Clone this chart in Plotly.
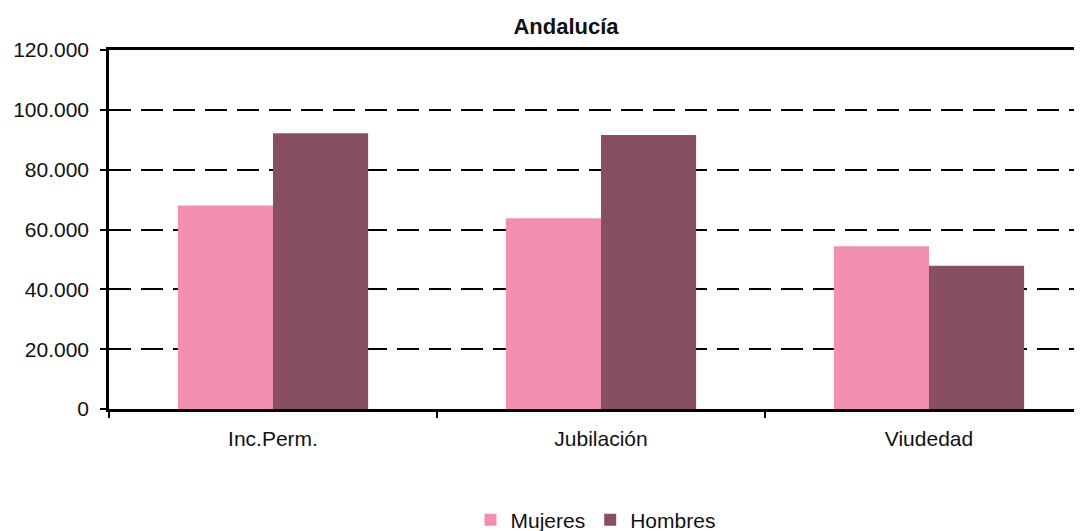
import plotly.graph_objects as go

categories = ["Inc.Perm.", "Jubilación", "Viudedad"]
mujeres = [68000, 63800, 54400]
hombres = [92200, 91600, 47900]
y_ticks = [0, 20000, 40000, 60000, 80000, 100000, 120000]
y_tick_labels = ["0", "20.000", "40.000", "60.000", "80.000", "100.000", "120.000"]

FONT = "Liberation Sans, Arial, sans-serif"
W, H = 1074, 523  # page has an 8px body offset

fig = go.Figure()
fig.add_trace(go.Bar(name="Mujeres", x=categories, y=mujeres,
                     marker=dict(color="#F28FB1", line=dict(width=0))))
fig.add_trace(go.Bar(name="Hombres", x=categories, y=hombres,
                     marker=dict(color="#884F61", line=dict(width=0))))

fig.update_layout(
    width=W, height=H,
    margin=dict(l=101, r=0, t=42, b=122),
    paper_bgcolor="white", plot_bgcolor="white",
    barmode="group", bargap=0.42, bargroupgap=0,
    font=dict(family=FONT, size=21, color="#111111"),
    title=dict(text="<b>Andalucía</b>", x=558 / W, xanchor="center",
               y=1 - 18 / H, yanchor="middle", yref="container",
               font=dict(family=FONT, size=22, color="#111111")),
    legend=dict(orientation="h", x=0.5, xanchor="center",
                y=1 - 512 / H, yanchor="middle", yref="container",
                font=dict(family=FONT, size=21, color="#111111"),
                itemwidth=30, traceorder="normal"),
    showlegend=True,
)
fig.update_xaxes(
    range=[-0.5, -0.5 + (W - 101) / 328],
    showline=True, linecolor="black", linewidth=2.5, mirror=True,
    ticks="outside", tickson="boundaries", ticklen=6, tickwidth=2, tickcolor="black",
    showgrid=False, ticklabelstandoff=9,
)
fig.update_yaxes(
    range=[0, 120000],
    tickvals=y_ticks, ticktext=y_tick_labels,
    showline=True, linecolor="black", linewidth=2.5,
    ticks="outside", ticklen=6, tickwidth=2, tickcolor="black",
    showgrid=True, gridcolor="black", gridwidth=2, griddash="22px,10px",
    zeroline=False, ticklabelstandoff=7,
)

fig.write_html("out.html")
